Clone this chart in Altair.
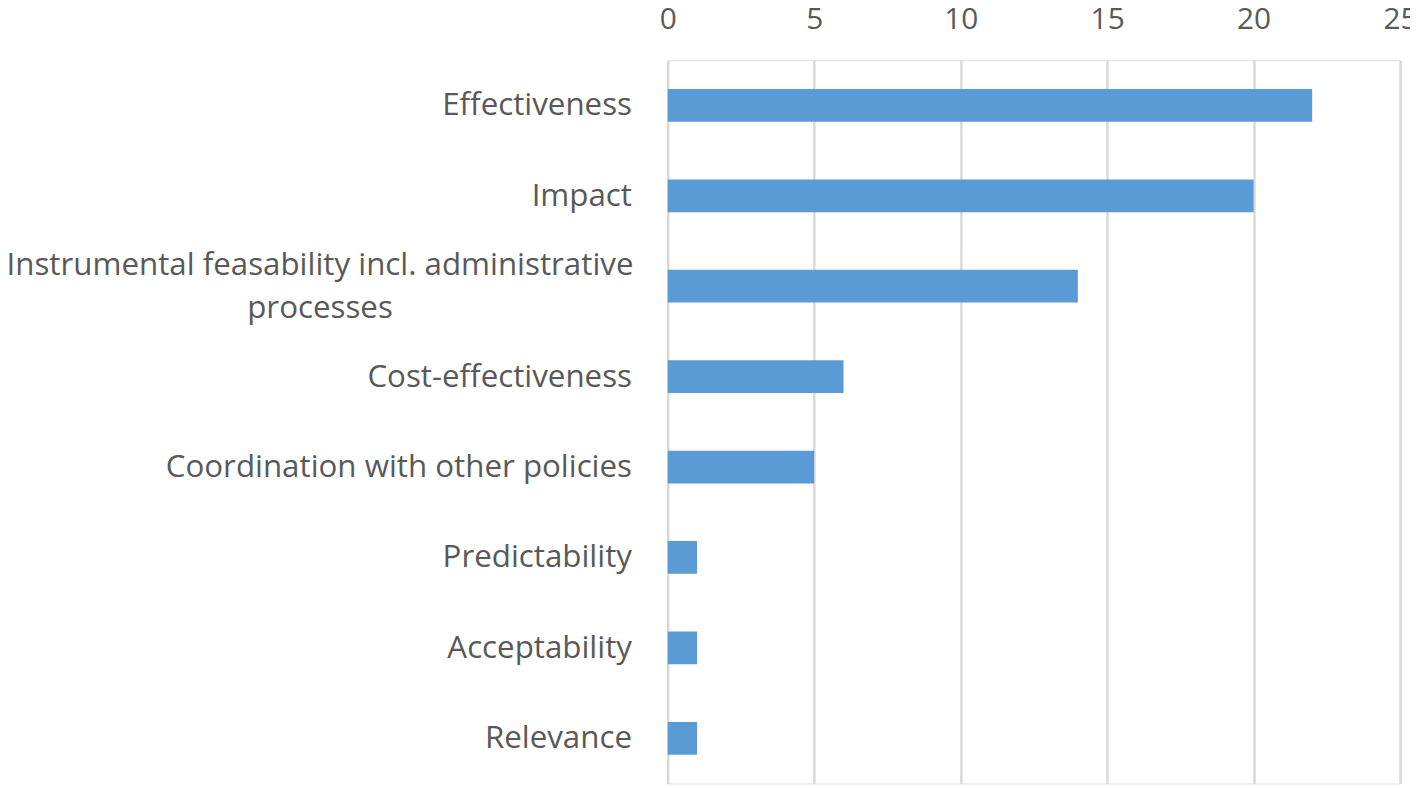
import altair as alt
import pandas as pd

categories = [
    "Effectiveness",
    "Impact",
    "Instrumental feasability incl. administrative processes",
    "Cost-effectiveness",
    "Coordination with other policies",
    "Predictability",
    "Acceptability",
    "Relevance",
]
values = [22, 20, 14, 6, 5, 1, 1, 1]
x_ticks = [0, 5, 10, 15, 20, 25]
long_label = "Instrumental feasability incl. administrative processes"
long_label_lines = ["Instrumental feasability incl. administrative", "processes"]

df = pd.DataFrame({"category": categories, "value": values})

FONT = "Open Sans"
GREY = "#595959"
FS = 31.5

y_enc = alt.Y("category:N", sort=categories, axis=None,
              scale=alt.Scale(paddingInner=0, paddingOuter=0))

base = alt.Chart(df)

bars = base.mark_bar(size=33, color="#5B9BD5").encode(
    x=alt.X("value:Q",
            scale=alt.Scale(domain=[0, 25], nice=False),
            axis=alt.Axis(orient="top", values=x_ticks, title=None,
                          domain=False, ticks=False, labelPadding=26,
                          labelFlush=False, labelOverlap=False,
                          labelFontSize=30, labelFont=FONT, labelColor=GREY,
                          gridColor="#D9D9D9", gridWidth=2.5)),
    y=y_enc,
)

labels = base.transform_filter(
    alt.datum.category != long_label
).mark_text(align="right", baseline="middle", fontSize=FS, font=FONT,
            color=GREY, dx=-36, dy=1).encode(
    x=alt.value(0), y=y_enc, text="category:N"
)

long_lbl = base.transform_filter(
    alt.datum.category == long_label
).mark_text(align="center", baseline="middle", fontSize=FS, font=FONT,
            color=GREY, lineHeight=43, dx=-350, dy=-20).encode(
    x=alt.value(0), y=y_enc, text=alt.value(long_label_lines)
)

chart = alt.layer(bars, labels, long_lbl).properties(
    width=737, height=728,
    autosize=alt.AutoSizeParams(type="none"),
    padding={"left": 664, "top": 50, "right": 10, "bottom": 0},
).configure_view(stroke=None).configure(background="white")

chart.save("out.html", embed_options={"renderer": "svg", "actions": False})
